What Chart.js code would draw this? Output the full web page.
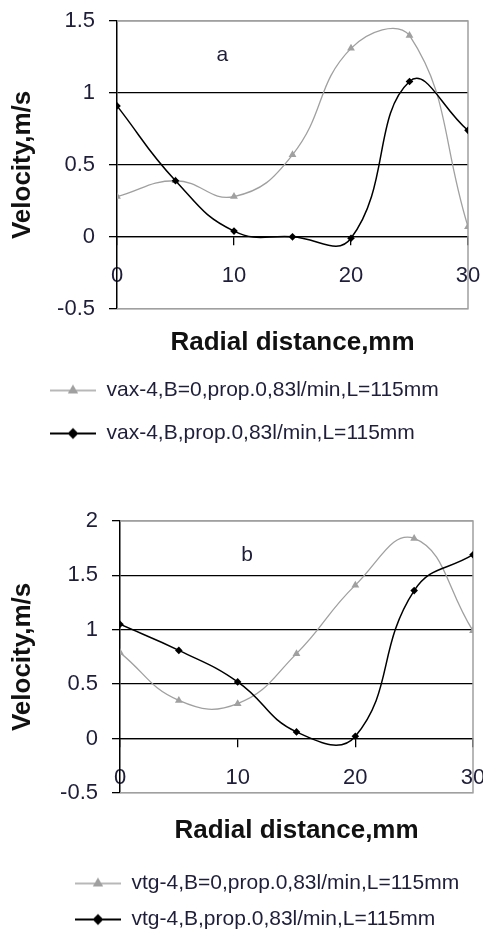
<!DOCTYPE html>
<html>
<head>
<meta charset="utf-8">
<style>
  html, body { margin: 0; padding: 0; background: #fff; overflow: hidden; }
  .box { position: absolute; left: 0; width: 483px; }
  #boxA { top: 0; height: 454px; }
  #boxB { top: 466px; height: 474px; }
</style>
<script src="https://cdn.jsdelivr.net/npm/chart.js"></script>
</head>
<body>
<div class="box" id="boxA"><canvas id="chartA"></canvas></div>
<div class="box" id="boxB"><canvas id="chartB"></canvas></div>
<script>
// valeurs
const radialDistance = [0, 5, 10, 15, 20, 25, 30];
const vaxB0 = [0.28, 0.39, 0.28, 0.57, 1.31, 1.40, 0.07];
const vaxB = [0.91, 0.39, 0.04, 0.00, -0.01, 1.08, 0.74];
const vtgB0 = [0.79, 0.35, 0.32, 0.78, 1.41, 1.84, 0.99];
const vtgB = [1.05, 0.81, 0.52, 0.06, 0.02, 1.36, 1.69];
const xTicks = [0, 10, 20, 30];
const yTicksA = [-0.5, 0, 0.5, 1, 1.5];
const yTicksB = [-0.5, 0, 0.5, 1, 1.5, 2];
const labelsA = ['vax-4,B=0,prop.0,83l/min,L=115mm', 'vax-4,B,prop.0,83l/min,L=115mm'];
const labelsB = ['vtg-4,B=0,prop.0,83l/min,L=115mm', 'vtg-4,B,prop.0,83l/min,L=115mm'];

const FONT = "'Liberation Sans', Arial, sans-serif";
const TEXT = '#1e1e3a';
const GREY = '#a0a0a0';

function toPoints(ys) {
    return radialDistance.map((x, i) => ({ x: x, y: ys[i] }));
}

// petite icone ligne + marqueur pour la legende
function legendIcon(color, style, radius, lineWidth) {
    const c = document.createElement('canvas');
    c.width = 46;
    c.height = 14;
    const g = c.getContext('2d');
    g.strokeStyle = color;
    g.lineWidth = lineWidth;
    g.beginPath();
    g.moveTo(0, 7);
    g.lineTo(46, 7);
    g.stroke();
    g.fillStyle = color;
    Chart.helpers.drawPoint(g, { pointStyle: style, radius: radius, borderWidth: 1 }, 23, 7);
    g.fill();
    return c;
}

// cadre gris (haut, droite, bas) comme Excel
const framePlugin = {
    id: 'frame',
    beforeDatasetsDraw(chart) {
        const { ctx, chartArea: a } = chart;
        ctx.save();
        ctx.strokeStyle = GREY;
        ctx.lineWidth = 1.5;
        ctx.beginPath();
        ctx.moveTo(a.left, a.top);
        ctx.lineTo(a.right, a.top);
        ctx.lineTo(a.right, a.bottom);
        ctx.lineTo(a.left, a.bottom);
        ctx.stroke();
        ctx.restore();
    }
};

// lettre a / b dans le graphique
const panelLabel = {
    id: 'panelLabel',
    afterDatasetsDraw(chart, args, opts) {
        const ctx = chart.ctx;
        ctx.save();
        ctx.font = '21px ' + FONT;
        ctx.fillStyle = TEXT;
        ctx.textAlign = 'center';
        ctx.textBaseline = 'middle';
        ctx.fillText(opts.text, chart.scales.x.getPixelForValue(opts.x), chart.scales.y.getPixelForValue(opts.y));
        ctx.restore();
    }
};

// decale la legende vers la droite
const legendShift = {
    id: 'legendShift',
    afterLayout(chart, args, opts) {
        chart.legend.left = opts.left;
    }
};

function makeChart(id, s) {
    const icons = [legendIcon(GREY, 'triangle', 4.5, 1.5), legendIcon('#000', 'rectRot', 4, 2)];
    const ctx = document.getElementById(id).getContext('2d');
    return new Chart(ctx, {
        type: 'line',
        data: {
            datasets: [{
                label: s.labels[0],
                data: toPoints(s.grey),
                borderColor: GREY,
                backgroundColor: GREY,
                borderWidth: 1.3,
                pointStyle: 'triangle',
                pointRadius: 4.5,
                pointBorderWidth: 0,
                tension: 0.45,
                order: 1
            }, {
                label: s.labels[1],
                data: toPoints(s.black),
                borderColor: '#000',
                backgroundColor: '#000',
                borderWidth: 1.5,
                pointStyle: 'rectRot',
                pointRadius: 3.8,
                pointBorderWidth: 0,
                tension: 0.45,
                order: 0
            }]
        },
        options: {
            responsive: true,
            maintainAspectRatio: false,
            animation: false,
            layout: {
                padding: { top: s.padTop, right: s.padRight, left: 0, bottom: 0 }
            },
            scales: {
                x: {
                    type: 'linear',
                    position: { y: 0 },
                    min: 0,
                    max: 30,
                    afterBuildTicks: sc => { sc.ticks = xTicks.map(v => ({ value: v })); },
                    afterFit: sc => { sc.paddingLeft = 0; sc.paddingRight = 0; },
                    grid: { drawOnChartArea: false, tickLength: 8, color: '#000', lineWidth: 1.3 },
                    border: { color: '#000', width: 1.3 },
                    ticks: {
                        color: TEXT, font: { family: FONT, size: 22 }, padding: 18, maxRotation: 0,
                        callback: v => String(v)
                    }
                },
                y: {
                    type: 'linear',
                    min: s.yTicks[0],
                    max: s.yTicks[s.yTicks.length - 1],
                    afterBuildTicks: sc => { sc.ticks = s.yTicks.map(v => ({ value: v })); },
                    afterFit: sc => { sc.width = s.axisWidth; sc.paddingTop = 0; sc.paddingBottom = 0; },
                    grid: {
                        color: c => (c.tick && (c.tick.value === s.yTicks[0] || c.tick.value === s.yTicks[s.yTicks.length - 1])) ? GREY : '#000',
                        tickColor: '#000',
                        tickLength: 8,
                        lineWidth: 1.3
                    },
                    border: { color: '#000', width: 1.5 },
                    ticks: {
                        color: TEXT, font: { family: FONT, size: 22 }, padding: 14,
                        callback: v => String(v)
                    },
                    title: {
                        display: true,
                        text: 'Velocity,m/s',
                        color: '#111',
                        font: { family: FONT, size: 26, weight: 'bold' },
                        padding: { top: 7, bottom: 0 }
                    }
                }
            },
            plugins: {
                title: {
                    display: true,
                    text: 'Radial distance,mm',
                    position: 'bottom',
                    fullSize: false,
                    weight: 500,
                    color: '#111',
                    font: { family: FONT, size: 26, weight: 'bold' },
                    padding: s.titlePad
                },
                legend: {
                    position: 'bottom',
                    align: 'start',
                    labels: {
                        usePointStyle: true,
                        pointStyleWidth: 46,
                        color: TEXT,
                        font: { family: FONT, size: 21 },
                        padding: s.legendPad,
                        sort: (a, b) => a.datasetIndex - b.datasetIndex,
                        generateLabels: chart => {
                            const items = Chart.defaults.plugins.legend.labels.generateLabels(chart);
                            items.forEach(it => { it.pointStyle = icons[it.datasetIndex]; });
                            return items;
                        }
                    }
                },
                tooltip: { enabled: false },
                legendShift: { left: s.legendLeft },
                panelLabel: s.panel
            }
        },
        plugins: [framePlugin, panelLabel, legendShift]
    });
}

makeChart('chartA', {
    labels: labelsA, grey: vaxB0, black: vaxB, yTicks: yTicksA,
    padTop: 21, padRight: 15, axisWidth: 117,
    titlePad: { top: 18, bottom: 0 }, legendPad: 22, legendLeft: 28,
    panel: { text: 'a', x: 9, y: 1.26 }
});

makeChart('chartB', {
    labels: labelsB, grey: vtgB0, black: vtgB, yTicks: yTicksB,
    padTop: 55, padRight: 10, axisWidth: 120,
    titlePad: { top: 22, bottom: 12 }, legendPad: 15, legendLeft: 60,
    panel: { text: 'b', x: 10.8, y: 1.69 }
});
</script>
</body>
</html>
